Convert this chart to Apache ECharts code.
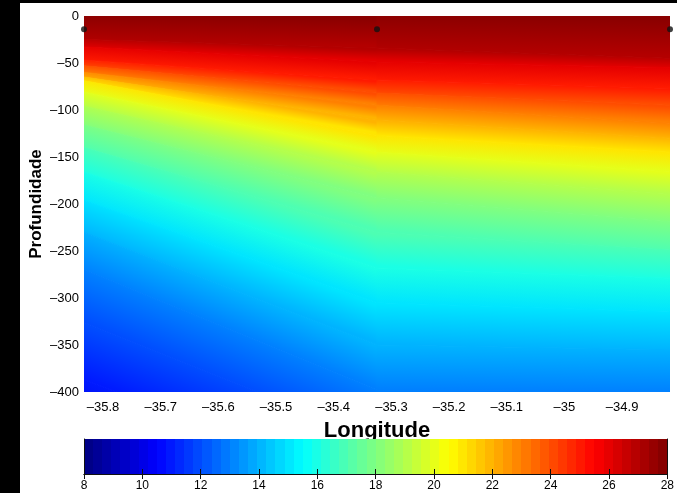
<!DOCTYPE html>
<html>
<head>
<meta charset="utf-8">
<script src="https://cdn.jsdelivr.net/npm/echarts@6/dist/echarts.min.js"></script>
<style>
  html, body { margin: 0; padding: 0; background: #fff; }
  #chart { width: 677px; height: 493px; }
</style>
</head>
<body>
<div id="chart"></div>
<script>
// station longitudes (the three black marks at the surface)
const stationLon = [-35.833, -35.325, -34.817];
const stationMarkDepth = [-14, -14, -14];

// isotherms (°C) and their depth (m) at each station
const tempLevels = [27.8, 27, 26, 25, 24, 23, 22, 21, 20, 19, 18, 17, 16, 15, 14, 13, 12, 11, 10];
const depthWest = [0, -25, -33, -47, -53, -60, -65, -69, -81, -96, -116, -140, -166, -196, -230, -270, -326, -387, -440];
const depthMid = [0, -34, -49, -68, -82, -95, -111, -127, -145, -166, -194, -230, -268, -305, -350, -398, -451, -504, -560];
const depthEast = [0, -45, -55, -77, -95, -114, -130, -145, -166, -190, -219, -249, -279, -315, -355, -400, -451, -504, -560];

// axis ticks
const lonTicks = [-35.8, -35.7, -35.6, -35.5, -35.4, -35.3, -35.2, -35.1, -35, -34.9];
const colorbarRange = [8, 28];

const FONT = "'Liberation Sans', Arial, Helvetica, sans-serif";
const profiles = [depthWest, depthMid, depthEast];

// MATLAB jet colormap
function jet(temp) {
  const t = (temp - colorbarRange[0]) / (colorbarRange[1] - colorbarRange[0]);
  const c = (k) => Math.round(255 * Math.max(0, Math.min(1, 1.5 - Math.abs(4 * t - k))));
  return "rgb(" + c(3) + "," + c(2) + "," + c(1) + ")";
}
const minus = (v) => String(v).replace("-", "\u2013");

// bands between consecutive isotherms, one per station pair
const bands = [];
for (let k = 0; k < tempLevels.length - 1; k++) {
  for (let s = 0; s < stationLon.length - 1; s++) {
    bands.push([
      stationLon[s], stationLon[s + 1],
      profiles[s][k], profiles[s + 1][k],
      profiles[s][k + 1], profiles[s + 1][k + 1],
      tempLevels[k], tempLevels[k + 1],
    ]);
  }
}

function renderBand(params, api) {
  const A = api.coord([api.value(0), api.value(2)]);
  const B = api.coord([api.value(1), api.value(3)]);
  const C = api.coord([api.value(1), api.value(5)]);
  const D = api.coord([api.value(0), api.value(4)]);
  let ex = B[0] - A[0] + (C[0] - D[0]);
  let ey = B[1] - A[1] + (C[1] - D[1]);
  const len = Math.hypot(ex, ey) || 1;
  ex /= len;
  ey /= len;
  let nx = -ey, ny = ex;
  if (ny < 0) { nx = -nx; ny = -ny; }
  const P = [(A[0] + B[0]) / 2, (A[1] + B[1]) / 2];
  const Q = [(C[0] + D[0]) / 2, (C[1] + D[1]) / 2];
  const L = (Q[0] - P[0]) * nx + (Q[1] - P[1]) * ny;
  const fill = new echarts.graphic.LinearGradient(
    P[0], P[1], P[0] + nx * L, P[1] + ny * L,
    [{ offset: 0, color: jet(api.value(6)) }, { offset: 1, color: jet(api.value(7)) }],
    true
  );
  return {
    type: "polygon",
    shape: { points: [A, B, C, D] },
    style: { fill: fill, stroke: fill, lineWidth: 1 },
  };
}

function renderColorbar(params, api) {
  const p0 = api.coord([api.value(0), 0]);
  const p1 = api.coord([api.value(1), 1]);
  const stops = [];
  for (let i = 0; i < 64; i++) {
    const col = jet(colorbarRange[0] + ((i + 0.5) / 64) * (colorbarRange[1] - colorbarRange[0]));
    stops.push({ offset: i / 64, color: col }, { offset: (i + 1) / 64, color: col });
  }
  return {
    type: "rect",
    shape: { x: p0[0], y: p1[1], width: p1[0] - p0[0], height: p0[1] - p1[1] },
    style: { fill: new echarts.graphic.LinearGradient(0, 0, 1, 0, stops) },
  };
}

const chart = echarts.init(document.getElementById("chart"));
const cbAxis = {
  gridIndex: 1,
  type: "value",
  min: colorbarRange[0],
  max: colorbarRange[1],
  interval: 2,
  z: 10,
  axisLine: { show: true, lineStyle: { color: "#111", width: 1 } },
  axisTick: { show: true, inside: true, length: 5, lineStyle: { color: "#111" } },
  splitLine: { show: false },
};
chart.setOption({
  animation: false,
  backgroundColor: "#fff",
  textStyle: { fontFamily: FONT },
  graphic: [
    { type: "rect", left: 0, top: 0, shape: { width: 20, height: 493 }, style: { fill: "#000" }, z: 100 },
    { type: "rect", left: 0, top: 0, shape: { width: 677, height: 3 }, style: { fill: "#000" }, z: 100 },
  ],
  grid: [
    { left: 84, right: 7, top: 16, bottom: 101 },
    { left: 84, right: 7, top: 439, height: 35 },
  ],
  xAxis: [
    {
      type: "value",
      min: stationLon[0],
      max: stationLon[2],
      name: "Longitude",
      nameLocation: "middle",
      nameGap: 28,
      nameTextStyle: { fontSize: 22, fontWeight: "bold", color: "#000", fontFamily: FONT },
      axisLine: { show: false },
      axisTick: { show: false },
      splitLine: { show: false },
      axisLabel: {
        customValues: lonTicks,
        margin: 9,
        fontSize: 13,
        color: "#000",
        formatter: minus,
      },
    },
    Object.assign({}, cbAxis, {
      position: "bottom",
      axisLabel: { margin: 6, fontSize: 12, color: "#000", formatter: minus },
    }),
    Object.assign({}, cbAxis, { position: "top", axisLabel: { show: false } }),
  ],
  yAxis: [
    {
      type: "value",
      min: -400,
      max: 0,
      interval: 50,
      name: "Profundidade",
      nameLocation: "middle",
      nameRotate: 90,
      nameGap: 39,
      nameMoveOverlap: false,
      nameTextStyle: { fontSize: 17, fontWeight: "bold", color: "#000", fontFamily: FONT },
      axisLine: { show: false },
      axisTick: { show: false },
      splitLine: { show: false },
      axisLabel: { margin: 5, fontSize: 13, color: "#000", formatter: minus },
    },
    {
      gridIndex: 1, type: "value", min: 0, max: 1, position: "left", z: 10,
      axisLine: { show: true, lineStyle: { color: "#111" } },
      axisTick: { show: false }, axisLabel: { show: false }, splitLine: { show: false },
    },
    {
      gridIndex: 1, type: "value", min: 0, max: 1, position: "right", z: 10,
      axisLine: { show: true, lineStyle: { color: "#111" } },
      axisTick: { show: false }, axisLabel: { show: false }, splitLine: { show: false },
    },
  ],
  series: [
    {
      type: "custom",
      xAxisIndex: 0,
      yAxisIndex: 0,
      clip: true,
      renderItem: renderBand,
      encode: { x: [0, 1], y: [2, 3, 4, 5] },
      data: bands,
      silent: true,
    },
    {
      type: "scatter",
      xAxisIndex: 0,
      yAxisIndex: 0,
      clip: false,
      symbol: "circle",
      symbolSize: 6,
      itemStyle: { color: "#111" },
      data: stationLon.map((lon, i) => [lon, stationMarkDepth[i]]),
      z: 5,
    },
    {
      type: "custom",
      xAxisIndex: 1,
      yAxisIndex: 1,
      renderItem: renderColorbar,
      encode: { x: [0, 1] },
      data: [colorbarRange],
      silent: true,
    },
  ],
});
</script>
</body>
</html>
